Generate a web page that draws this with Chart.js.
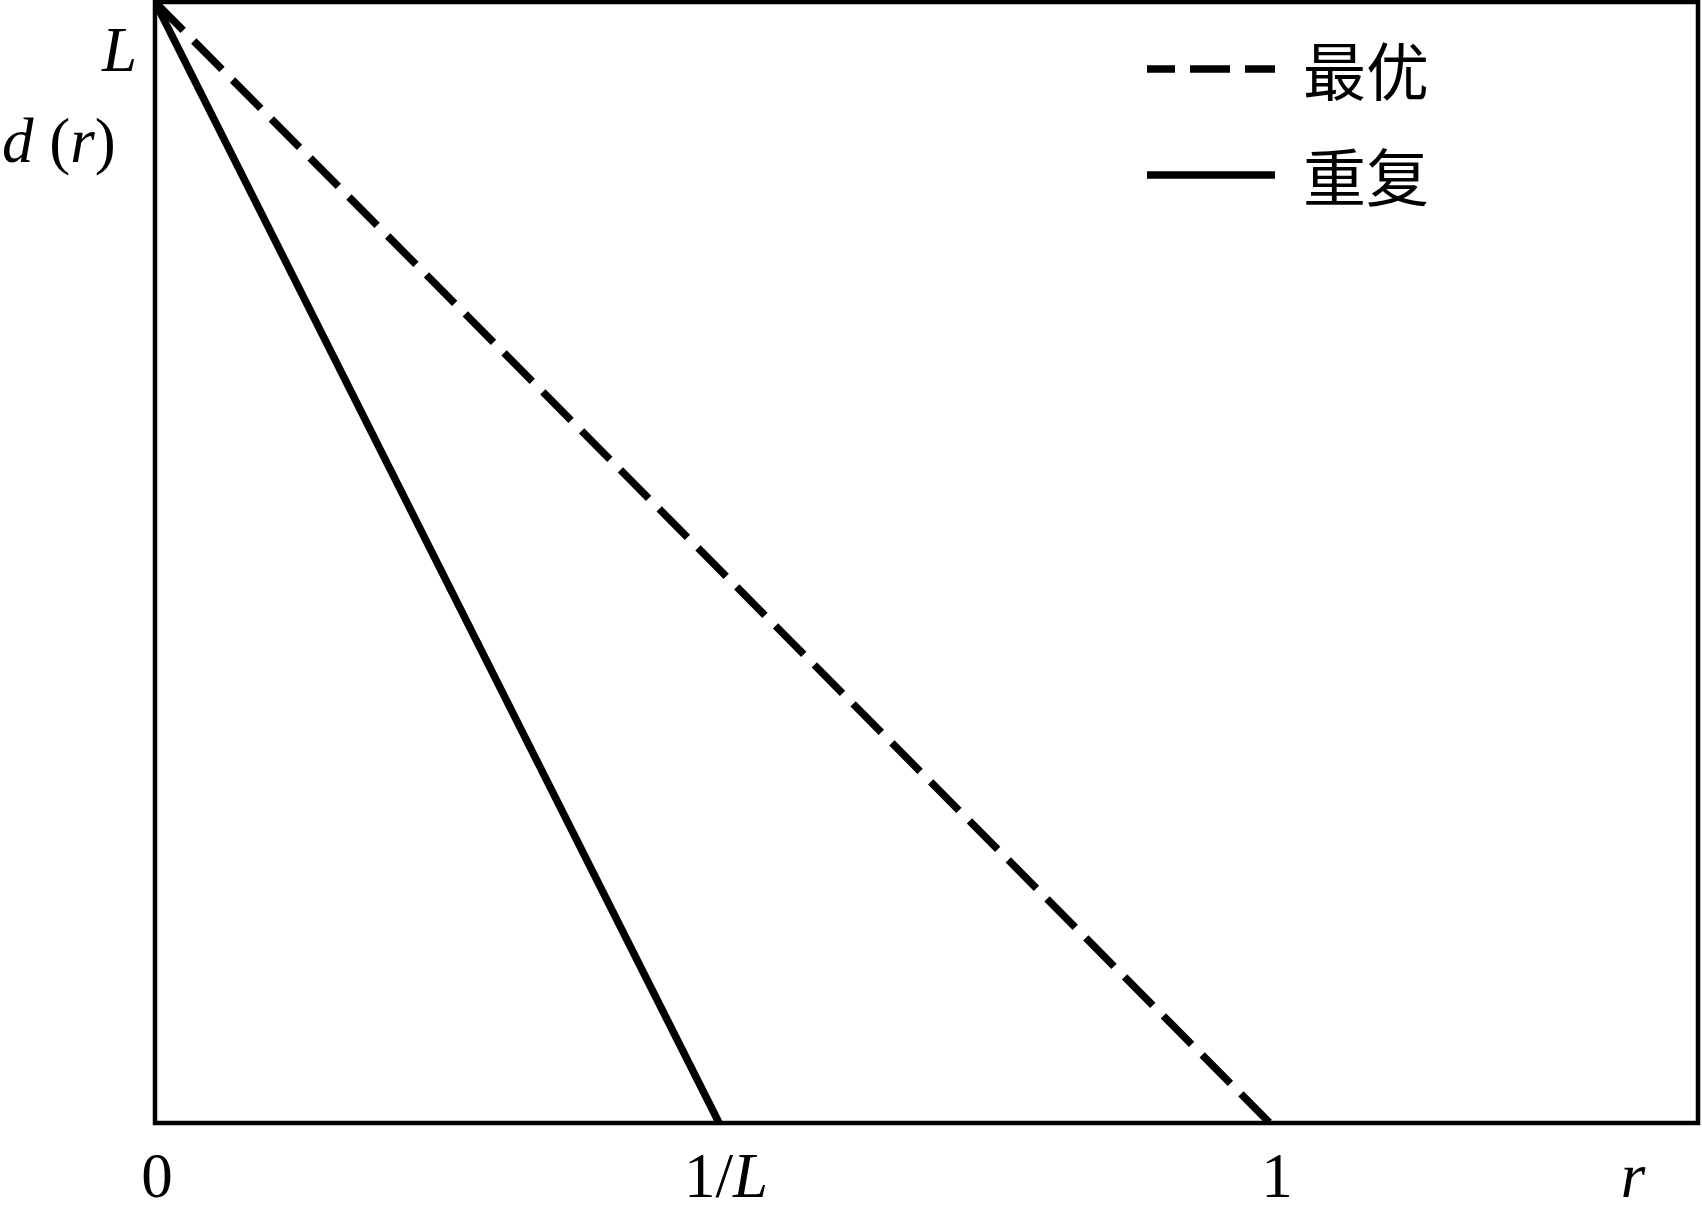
<!DOCTYPE html>
<html>
<head>
<meta charset="utf-8">
<script src="https://cdn.jsdelivr.net/npm/chart.js@4/dist/chart.umd.min.js"></script>
<style>
    html, body { margin: 0; padding: 0; background: #fff; }
    canvas { display: block; }
</style>
</head>
<body>
<canvas id="chart" width="1702" height="1213"></canvas>
<script>
// values (L taken as 2, so 1/L sits near 0.5)
const L_VALUE = 2;
const R_MAX = 1.384;

const seriesLabels = ["最优", "重复"];
const optimalR = [0, 1];
const optimalD = [2, 0];
const repeatedR = [0, 0.506];
const repeatedD = [2, 0];

const xTickValues = [0, 0.506, 1];
const xTickLabels = [
    [{ text: "0" }],
    [{ text: "1/" }, { text: "L", italic: true }],
    [{ text: "1" }]
];

const SERIF = "'Liberation Serif', 'Times New Roman', serif";
const CJK = "'Noto Sans CJK SC', sans-serif";
const FONT_SIZE = 63;

function toPoints(xs, ys) {
    return xs.map((x, i) => ({ x: x, y: ys[i] }));
}

function drawRuns(ctx, runs, x, y, align) {
    const fontFor = run => (run.italic ? "italic " : "") + FONT_SIZE + "px " + SERIF;
    let total = 0;
    runs.forEach(run => {
        ctx.font = fontFor(run);
        total += ctx.measureText(run.text).width;
    });
    let cursor = align === "center" ? x - total / 2 : align === "right" ? x - total : x;
    ctx.textAlign = "left";
    ctx.textBaseline = "alphabetic";
    runs.forEach(run => {
        ctx.font = fontFor(run);
        ctx.fillText(run.text, cursor, y);
        cursor += ctx.measureText(run.text).width;
    });
}

const framePlugin = {
    id: "frame",
    afterDatasetsDraw(chart) {
        const { ctx, chartArea } = chart;
        ctx.save();
        ctx.strokeStyle = "#000";
        ctx.lineWidth = 4.5;
        ctx.setLineDash([]);
        ctx.strokeRect(chartArea.left, chartArea.top,
            chartArea.right - chartArea.left, chartArea.bottom - chartArea.top);
        ctx.restore();
    }
};

const labelsPlugin = {
    id: "labels",
    afterDraw(chart) {
        const { ctx, chartArea } = chart;
        const xScale = chart.scales.x;
        ctx.save();
        ctx.fillStyle = "#000";

        // x tick labels under the frame
        const baseline = chartArea.bottom + 74;
        xTickValues.forEach((v, i) => {
            const px = xScale.getPixelForValue(v) + (i === 0 ? 2 : 7);
            drawRuns(ctx, xTickLabels[i], px, baseline, "center");
        });
        drawRuns(ctx, [{ text: "r", italic: true }], chartArea.right - 65, baseline, "center");

        // y side labels
        drawRuns(ctx, [{ text: "L", italic: true }], chartArea.left - 18, chartArea.top + 69, "right");
        drawRuns(ctx, [
            { text: "d", italic: true },
            { text: " (" },
            { text: "r", italic: true },
            { text: ")" }
        ], 2, chartArea.top + 160, "left");

        // legend, top right inside the frame
        const legendX = 1147;
        const legendW = 128;
        const rows = [69, 175];
        chart.data.datasets.forEach((ds, i) => {
            const y = rows[i];
            ctx.beginPath();
            ctx.lineWidth = ds.borderWidth;
            ctx.strokeStyle = ds.borderColor;
            ctx.setLineDash(ds.borderDash || []);
            ctx.lineDashOffset = ds.borderDash ? 12 : 0;
            ctx.moveTo(legendX, y);
            ctx.lineTo(legendX + legendW, y);
            ctx.stroke();
            ctx.setLineDash([]);
            ctx.font = FONT_SIZE + "px " + CJK;
            ctx.textAlign = "left";
            ctx.textBaseline = "middle";
            ctx.fillText(ds.label, legendX + legendW + 28, y + 2);
        });
        ctx.restore();
    }
};

new Chart(document.getElementById("chart").getContext("2d"), {
    type: "scatter",
    data: {
        datasets: [
            {
                label: seriesLabels[0],
                data: toPoints(optimalR, optimalD),
                showLine: true,
                borderColor: "#000",
                borderWidth: 7.5,
                borderDash: [40, 15],
                pointRadius: 0
            },
            {
                label: seriesLabels[1],
                data: toPoints(repeatedR, repeatedD),
                showLine: true,
                borderColor: "#000",
                borderWidth: 7.5,
                pointRadius: 0
            }
        ]
    },
    options: {
        responsive: false,
        animation: false,
        layout: { padding: { left: 155, right: 4, top: 2, bottom: 90 } },
        plugins: {
            legend: { display: false },
            tooltip: { enabled: false }
        },
        scales: {
            x: { type: "linear", min: 0, max: R_MAX, display: false },
            y: { type: "linear", min: 0, max: L_VALUE, display: false }
        }
    },
    plugins: [framePlugin, labelsPlugin]
});
</script>
</body>
</html>
